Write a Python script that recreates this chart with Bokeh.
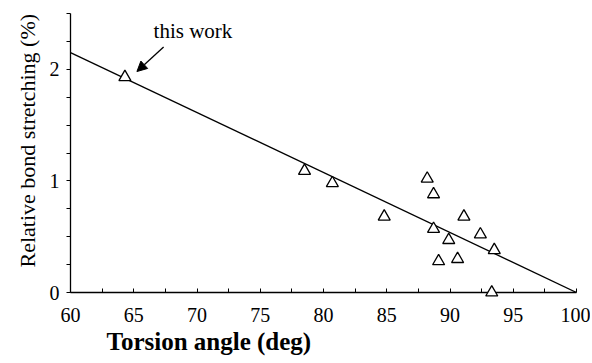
from bokeh.plotting import figure
from bokeh.models import FixedTicker, Title, Label, Arrow, NormalHead
from bokeh.embed import file_html
from bokeh.resources import INLINE

# data
torsion = [64.3, 78.5, 80.7, 84.8, 88.2, 88.7, 88.7, 91.1, 89.9, 89.1, 90.6, 92.4, 93.5, 93.3]
stretch = [1.93, 1.09, 0.98, 0.68, 1.02, 0.88, 0.57, 0.68, 0.47, 0.28, 0.30, 0.52, 0.38, 0.00]
fit_x = [60, 100]
fit_y = [2.15, 0.0]
x_major = [60, 65, 70, 75, 80, 85, 90, 95, 100]
x_minor = [62.5, 67.5, 72.5, 77.5, 82.5, 87.5, 92.5, 97.5]
y_major = [0, 1, 2]
y_minor = [0.25, 0.5, 0.75, 1.25, 1.5, 1.75, 2.25, 2.5]
x_title = "Torsion angle (deg)"
y_title = "Relative bond stretching (%)"

FONT = "Liberation Serif"

p = figure(width=590, height=362, x_range=(60, 100), y_range=(0, 2.5),
           output_backend="svg", toolbar_location=None,
           min_border_left=70, min_border_right=14, min_border_top=13, min_border_bottom=70)
p.outline_line_color = None
p.xgrid.visible = False
p.ygrid.visible = False
p.background_fill_color = "white"

for ax in p.xaxis:
    ax.ticker = FixedTicker(ticks=x_major, minor_ticks=x_minor)
    ax.major_tick_in = 4
    ax.major_tick_out = 0
    ax.minor_tick_in = 4
    ax.minor_tick_out = 0
    ax.major_label_standoff = 15
    ax.major_label_text_font = FONT
    ax.major_label_text_font_size = "20px"
    ax.major_label_text_color = "black"
    ax.axis_line_color = "black"
    ax.axis_line_width = 1.3

for ax in p.yaxis:
    ax.ticker = FixedTicker(ticks=y_major, minor_ticks=y_minor)
    ax.major_tick_in = 0
    ax.major_tick_out = 4
    ax.minor_tick_in = 0
    ax.minor_tick_out = 4
    ax.major_label_standoff = 7
    ax.major_label_text_font = FONT
    ax.major_label_text_font_size = "20px"
    ax.major_label_text_color = "black"
    ax.axis_line_color = "black"
    ax.axis_line_width = 1.3

p.add_layout(Title(text=x_title, align="left", offset=36,
                   text_font=FONT, text_font_size="25px", text_font_style="bold",
                   text_color="black", standoff=3), "below")
p.add_layout(Title(text=y_title, align="left", offset=25,
                   text_font=FONT, text_font_size="22px", text_font_style="normal",
                   text_color="black", standoff=14), "left")

p.line(fit_x, fit_y, line_color="black", line_width=1.3)
p.scatter(torsion, stretch, marker="triangle", size=12, fill_color="white",
          line_color="black", line_width=1.3, level="overlay")

p.add_layout(Arrow(end=NormalHead(size=10, fill_color="black", line_color="black"),
                   x_start=67.36, y_start=2.2, x_end=65.25, y_end=1.98,
                   line_color="black", line_width=1.3))
p.add_layout(Label(x=66.57, y=2.236, text="this work", text_font=FONT,
                   text_font_size="21px", text_color="black"))

open("out.html", "w").write(file_html(p, INLINE))
